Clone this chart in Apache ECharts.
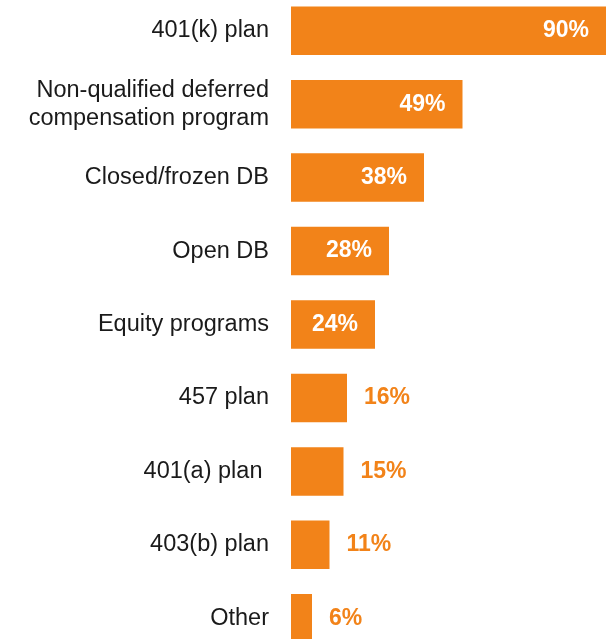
<!DOCTYPE html>
<html>
<head>
<meta charset="utf-8">
<script src="https://cdn.jsdelivr.net/npm/echarts@6/dist/echarts.min.js"></script>
<style>
  html, body { margin: 0; padding: 0; background: #ffffff; overflow: hidden; width: 606px; height: 639px; }
  /* plot runs slightly past the top and bottom edges of the page */
  #chart { position: absolute; left: 0; top: -6px; width: 606px; height: 661px; }
</style>
</head>
<body>
<div id="chart"></div>
<script>
// Retirement / deferred compensation programs offered
const categories = [
  '401(k) plan',
  'Non-qualified deferred\ncompensation program',
  'Closed/frozen DB',
  'Open DB',
  'Equity programs',
  '457 plan',
  '401(a) plan ',
  '403(b) plan',
  'Other'
];
const values = [90, 49, 38, 28, 24, 16, 15, 11, 6];

const ORANGE = '#F28319';
const FONT = '"Liberation Sans", Arial, Helvetica, sans-serif';

const chart = echarts.init(document.getElementById('chart'), null, { renderer: 'canvas' });

const seriesData = values.map(function (v) {
  const inside = v >= 20;
  return {
    value: v,
    label: {
      show: true,
      position: inside ? 'insideRight' : 'right',
      distance: 17,
      color: inside ? '#ffffff' : ORANGE,
      fontFamily: FONT,
      fontWeight: 'bold',
      fontSize: 23,
      formatter: '{c}%'
    }
  };
});

chart.setOption({
  animation: false,
  backgroundColor: '#ffffff',
  grid: { left: 291, right: 0, top: 0, bottom: 0, containLabel: false },
  xAxis: {
    type: 'value',
    min: 0,
    max: 90,
    show: false
  },
  yAxis: {
    type: 'category',
    data: categories,
    inverse: true,
    axisLine: { show: false },
    axisTick: { show: false },
    splitLine: { show: false },
    axisLabel: {
      margin: 22,
      color: '#1a1a1a',
      fontFamily: FONT,
      fontSize: 23.5,
      lineHeight: 28,
      align: 'right'
    }
  },
  series: [{
    type: 'bar',
    data: seriesData,
    barWidth: '66%',
    itemStyle: { color: ORANGE }
  }]
});
</script>
</body>
</html>
